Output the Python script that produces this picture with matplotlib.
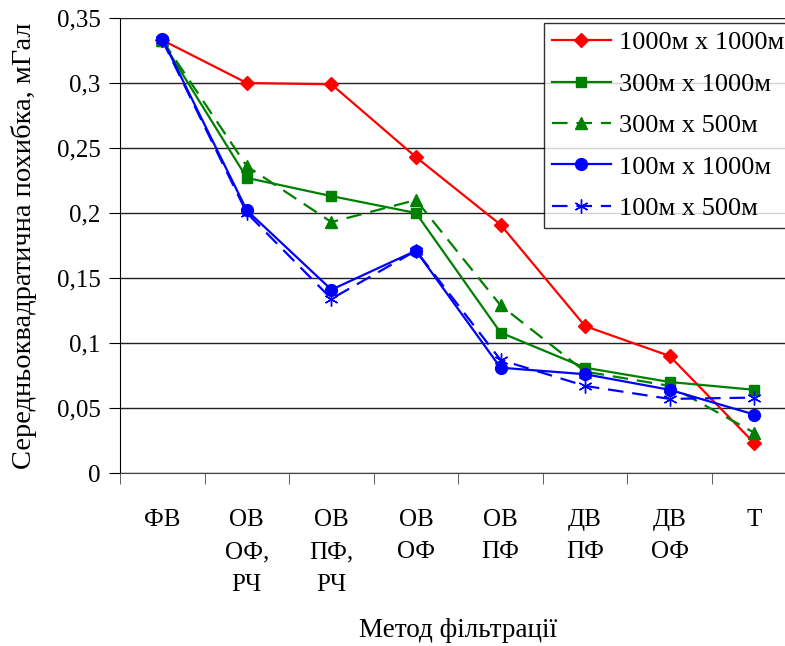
import numpy as np
import matplotlib.pyplot as plt

plt.rcParams['font.family'] = ['Liberation Serif', 'DejaVu Serif']

# Дані з графіка
categories = ['ФВ', 'ОВ\nОФ,\nРЧ', 'ОВ\nПФ,\nРЧ', 'ОВ\nОФ', 'ОВ\nПФ', 'ДВ\nПФ', 'ДВ\nОФ', 'Т']
s_1000x1000 = [0.333, 0.300, 0.299, 0.243, 0.191, 0.113, 0.090, 0.023]
s_300x1000 = [0.332, 0.227, 0.213, 0.200, 0.108, 0.081, 0.070, 0.064]
s_300x500 = [0.333, 0.236, 0.193, 0.210, 0.129, 0.078, 0.067, 0.031]
s_100x1000 = [0.334, 0.202, 0.141, 0.171, 0.081, 0.076, 0.064, 0.045]
s_100x500 = [0.333, 0.200, 0.134, 0.171, 0.087, 0.067, 0.057, 0.058]
y_ticks = [0, 0.05, 0.1, 0.15, 0.2, 0.25, 0.3, 0.35]
y_tick_labels = ['0', '0,05', '0,1', '0,15', '0,2', '0,25', '0,3', '0,35']

fig = plt.figure(figsize=(7.85, 6.46), dpi=100)
ax = fig.add_axes([120 / 785, 1 - 473 / 646, (796.5 - 120) / 785, (473 - 18) / 646])

x = np.arange(len(categories))
lw = 1.6
ax.plot(x, s_1000x1000, '-', color='red', marker='D', markersize=7, lw=lw, label='1000м x 1000м')
ax.plot(x, s_300x1000, '-', color='green', marker='s', markersize=7.5, lw=lw, label='300м x 1000м')
ax.plot(x, s_300x500, '--', color='green', marker='^', markersize=9, lw=lw, dashes=(7, 4), label='300м x 500м')
ax.plot(x, s_100x1000, '-', color='blue', marker='o', markersize=8.5, lw=lw, label='100м x 1000м')
ax.plot(x, s_100x500, '--', color='blue', marker=(6, 2, 0), markersize=10, lw=lw, dashes=(7, 4),
        label='100м x 500м')

ax.set_xlim(-0.5, len(categories) - 0.5)
ax.set_ylim(0, 0.35)
ax.set_yticks(y_ticks)
ax.set_yticklabels(y_tick_labels, fontsize=18)
ax.yaxis.grid(True, color='#222222', lw=1.0)
ax.set_axisbelow(True)

ax.set_xticks(x)
ax.set_xticklabels(categories, fontsize=18, linespacing=1.6, va='top')
ax.set_xticks(np.arange(-0.5, len(categories), 1), minor=True)
ax.tick_params(axis='x', which='major', length=0, pad=26)
ax.tick_params(axis='x', which='minor', length=8, direction='out', color='#444444')
ax.tick_params(axis='y', length=8, direction='out', pad=6)

for s in ['top', 'right']:
    ax.spines[s].set_visible(False)
ax.spines['left'].set_color('black')
ax.spines['bottom'].set_color('#444444')

ax.set_ylabel('Середньоквадратична похибка, мГал', fontsize=20.5, labelpad=14)
ax.set_xlabel('Метод фільтрації', fontsize=19.5, labelpad=16)

leg = ax.legend(loc='upper right', bbox_to_anchor=((792 - 120) / 676.5, (473 - 23) / 455),
                fontsize=19, frameon=True, fancybox=False, edgecolor='black',
                handlelength=2.25, labelspacing=0.68, borderpad=0.3, handletextpad=0.3,
                borderaxespad=0)
leg.get_frame().set_linewidth(1.0)

fig.savefig('out.png', dpi=100)
